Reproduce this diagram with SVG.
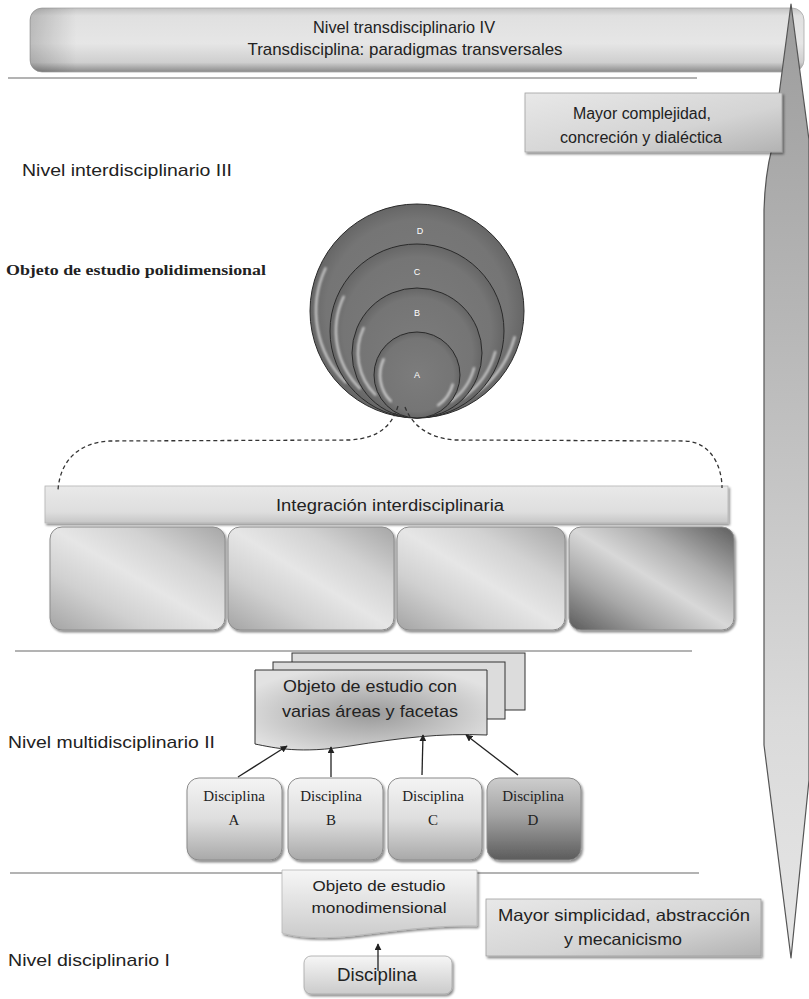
<svg xmlns="http://www.w3.org/2000/svg" width="809" height="999" viewBox="0 0 809 999">
<defs>
  <linearGradient id="gBanner" x1="0" y1="0" x2="0" y2="1">
    <stop offset="0" stop-color="#c4c4c4"/>
    <stop offset="0.12" stop-color="#e0e0e0"/>
    <stop offset="0.55" stop-color="#e6e6e6"/>
    <stop offset="0.85" stop-color="#cfcfcf"/>
    <stop offset="1" stop-color="#8a8a8a"/>
  </linearGradient>
  <linearGradient id="gBannerL" x1="0" y1="0" x2="1" y2="0">
    <stop offset="0" stop-color="#000" stop-opacity="0.18"/>
    <stop offset="0.06" stop-color="#000" stop-opacity="0"/>
  </linearGradient>
  <linearGradient id="gSpear" x1="0" y1="0" x2="0" y2="1">
    <stop offset="0" stop-color="#9c9c9c"/>
    <stop offset="0.35" stop-color="#b8b8b8"/>
    <stop offset="0.75" stop-color="#dadada"/>
    <stop offset="1" stop-color="#e6e6e6"/>
  </linearGradient>
  <linearGradient id="gNote" x1="0" y1="0" x2="1" y2="1">
    <stop offset="0" stop-color="#e8e8e8"/>
    <stop offset="0.6" stop-color="#d4d4d4"/>
    <stop offset="1" stop-color="#b2b2b2"/>
  </linearGradient>
  <linearGradient id="gBar" x1="0" y1="0" x2="0" y2="1">
    <stop offset="0" stop-color="#e9e9e9"/>
    <stop offset="0.7" stop-color="#dedede"/>
    <stop offset="1" stop-color="#c6c6c6"/>
  </linearGradient>
  <linearGradient id="gTile" x1="1" y1="0" x2="0" y2="1">
    <stop offset="0" stop-color="#a6a6a6"/>
    <stop offset="0.28" stop-color="#d2d2d2"/>
    <stop offset="0.5" stop-color="#e6e6e6"/>
    <stop offset="0.72" stop-color="#d0d0d0"/>
    <stop offset="1" stop-color="#a4a4a4"/>
  </linearGradient>
  <linearGradient id="gTileDark" x1="1" y1="0" x2="0" y2="1">
    <stop offset="0" stop-color="#5e5e5e"/>
    <stop offset="0.3" stop-color="#b0b0b0"/>
    <stop offset="0.5" stop-color="#d8d8d8"/>
    <stop offset="0.72" stop-color="#a8a8a8"/>
    <stop offset="1" stop-color="#5a5a5a"/>
  </linearGradient>
  <linearGradient id="gDisc" x1="0" y1="0" x2="0" y2="1">
    <stop offset="0" stop-color="#f4f4f4"/>
    <stop offset="0.5" stop-color="#dedede"/>
    <stop offset="1" stop-color="#a9a9a9"/>
  </linearGradient>
  <linearGradient id="gDiscDark" x1="0" y1="0" x2="0" y2="1">
    <stop offset="0" stop-color="#cdcdcd"/>
    <stop offset="0.45" stop-color="#a4a4a4"/>
    <stop offset="1" stop-color="#5c5c5c"/>
  </linearGradient>
  <radialGradient id="gDoc" cx="0.5" cy="0.55" r="0.6">
    <stop offset="0" stop-color="#9a9a9a"/>
    <stop offset="1" stop-color="#e2e2e2"/>
  </radialGradient>
  <linearGradient id="gMono" x1="0" y1="0" x2="0" y2="1">
    <stop offset="0" stop-color="#f6f6f6"/>
    <stop offset="1" stop-color="#cbcbcb"/>
  </linearGradient>
  <radialGradient id="gCircle" cx="0.5" cy="0.5" r="0.5">
    <stop offset="0" stop-color="#7c7c7c"/>
    <stop offset="0.85" stop-color="#757575"/>
    <stop offset="1" stop-color="#666"/>
  </radialGradient>
  <filter id="shadow" x="-10%" y="-10%" width="125%" height="140%">
    <feDropShadow dx="1.5" dy="2" stdDeviation="1.2" flood-color="#000" flood-opacity="0.45"/>
  </filter>
  <filter id="soft" x="-20%" y="-20%" width="140%" height="140%">
    <feGaussianBlur stdDeviation="1"/>
  </filter>
  <marker id="arr" viewBox="0 0 10 10" refX="9" refY="5" markerWidth="7" markerHeight="7" markerUnits="userSpaceOnUse" orient="auto">
    <path d="M0,0 L10,5 L0,10 Z" fill="#222"/>
  </marker>
  <style>
    .sans { font-family: "Liberation Sans", Arial, sans-serif; fill: #222; }
    .serif { font-family: "Liberation Serif", "Times New Roman", serif; fill: #222; }
    .sep { stroke: #9a9a9a; stroke-width: 1.6; fill: none; }
    .circ { fill: url(#gCircle); stroke: #2a2a2a; stroke-width: 1; }
    .hl { fill: none; stroke: #fff; stroke-width: 2.5; stroke-opacity: 0.6; stroke-linecap: round; filter: url(#soft); }
    .clabel { font-family: "Liberation Sans", Arial, sans-serif; font-size: 9px; fill: #fff; text-anchor: middle; }
    .tile { stroke: #8c8c8c; stroke-width: 1; filter: url(#shadow); }
    .disc { stroke: #8a8a8a; stroke-width: 1; filter: url(#shadow); }
    .conn { stroke: #222; stroke-width: 1.3; fill: none; marker-end: url(#arr); }
    .dash { stroke: #333; stroke-width: 1.3; fill: none; stroke-dasharray: 4 3; }
  </style>
</defs>
<rect width="809" height="999" fill="#fff"/>

<g id="separators">
  <line class="sep" x1="8" y1="78" x2="697" y2="78"/>
  <line class="sep" x1="15" y1="651" x2="692" y2="651"/>
  <line class="sep" x1="10" y1="873" x2="699" y2="873"/>
</g>

<g id="nivel-iv">
  <rect x="30" y="8" width="774" height="64" rx="12" fill="url(#gBanner)" stroke="#a8a8a8" stroke-width="0.8"/>
  <rect x="30" y="8" width="774" height="64" rx="12" fill="url(#gBannerL)"/>
  <text class="sans" x="404" y="33" font-size="17" text-anchor="middle" textLength="182" lengthAdjust="spacingAndGlyphs">Nivel transdisciplinario IV</text>
  <text class="sans" x="405" y="55" font-size="17" text-anchor="middle" textLength="315" lengthAdjust="spacingAndGlyphs">Transdisciplina: paradigmas transversales</text>
</g>

<g id="eje">
  <path d="M791,4 L809,140 L809,780 L791,958 L764,745 L764,210 Q765,175 772,148 Z" fill="url(#gSpear)" stroke="#555" stroke-width="1.2" stroke-linejoin="round"/>
</g>

<g id="mayor-complejidad">
  <rect x="525" y="93" width="257" height="59" fill="url(#gNote)" stroke="#a0a0a0" stroke-width="0.8" filter="url(#shadow)"/>
  <text class="sans" x="642" y="119" font-size="16" text-anchor="middle" textLength="138" lengthAdjust="spacingAndGlyphs">Mayor complejidad,</text>
  <text class="sans" x="641" y="143" font-size="16" text-anchor="middle" textLength="162" lengthAdjust="spacingAndGlyphs">concreción y dialéctica</text>
</g>

<g id="label-iii">
  <text class="sans" x="22" y="176" font-size="17" textLength="210" lengthAdjust="spacingAndGlyphs">Nivel interdisciplinario III</text>
</g>
<g id="label-polidimensional">
  <text class="serif" x="6" y="275" font-size="14.5" font-weight="bold" textLength="260" lengthAdjust="spacingAndGlyphs">Objeto de estudio polidimensional</text>
</g>

<g id="circulos">
  <circle class="circ" cx="417" cy="311" r="107"/>
  <path class="hl" d="M325.5,268.3 A101,101 0 0 0 345.6,382.4"/>
  <path class="hl" d="M514.6,337.2 A101,101 0 0 1 475.0,393.7"/>
  <text class="clabel" x="420" y="234">D</text>
  <circle class="circ" cx="417" cy="331" r="87"/>
  <path class="hl" d="M343.6,296.7 A81,81 0 0 0 359.7,388.3"/>
  <path class="hl" d="M495.2,352.0 A81,81 0 0 1 463.5,397.3"/>
  <text class="clabel" x="417" y="275">C</text>
  <circle class="circ" cx="417" cy="353" r="65"/>
  <path class="hl" d="M363.5,328.0 A59,59 0 0 0 375.3,394.7"/>
  <path class="hl" d="M474.0,368.3 A59,59 0 0 1 450.9,401.3"/>
  <text class="clabel" x="417" y="316">B</text>
  <circle class="circ" cx="417" cy="375" r="43"/>
  <path class="hl" d="M383.5,359.4 A37,37 0 0 0 390.8,401.2"/>
  <path class="hl" d="M452.7,384.6 A37,37 0 0 1 438.2,405.3"/>
  <text class="clabel" x="417" y="378">A</text>
</g>

<g id="integracion">
  <rect x="45" y="486" width="683" height="37" fill="url(#gBar)" stroke="#b4b4b4" stroke-width="0.8" filter="url(#shadow)"/>
  <text class="sans" x="390" y="511" font-size="16" text-anchor="middle" textLength="228" lengthAdjust="spacingAndGlyphs">Integración interdisciplinaria</text>
</g>

<g id="tile-1"><rect class="tile" x="50" y="527" width="175" height="103" rx="12" fill="url(#gTile)"/></g>
<g id="tile-2"><rect class="tile" x="228" y="527" width="166" height="103" rx="12" fill="url(#gTile)"/></g>
<g id="tile-3"><rect class="tile" x="397" y="527" width="168" height="103" rx="12" fill="url(#gTile)"/></g>
<g id="tile-4"><rect class="tile" x="569" y="527" width="165" height="103" rx="12" fill="url(#gTileDark)"/></g>

<g id="label-ii">
  <text class="sans" x="8" y="748" font-size="17" textLength="207" lengthAdjust="spacingAndGlyphs">Nivel multidisciplinario II</text>
</g>

<g id="objeto-multi">
  <rect x="292" y="653" width="233" height="57" fill="#dcdcdc" stroke="#333" stroke-width="1"/>
  <rect x="273" y="662" width="232" height="57" fill="#dcdcdc" stroke="#333" stroke-width="1"/>
  <path d="M255,670 H487 V735 C440,733 400,738 350,746 C300,754 275,748 255,744 Z" fill="url(#gDoc)" stroke="#333" stroke-width="1"/>
  <text class="sans" x="370" y="692" font-size="17" text-anchor="middle" textLength="174" lengthAdjust="spacingAndGlyphs">Objeto de estudio con</text>
  <text class="sans" x="370" y="717" font-size="17" text-anchor="middle" textLength="176" lengthAdjust="spacingAndGlyphs">varias áreas y facetas</text>
</g>

<g id="disciplina-a">
  <rect class="disc" x="187" y="778" width="95" height="82" rx="12" fill="url(#gDisc)"/>
  <text class="serif" x="234" y="801" font-size="15" text-anchor="middle">Disciplina</text>
  <text class="serif" x="234" y="825" font-size="15" text-anchor="middle">A</text>
</g>
<g id="disciplina-b">
  <rect class="disc" x="288" y="778" width="95" height="82" rx="12" fill="url(#gDisc)"/>
  <text class="serif" x="331" y="801" font-size="15" text-anchor="middle">Disciplina</text>
  <text class="serif" x="331" y="825" font-size="15" text-anchor="middle">B</text>
</g>
<g id="disciplina-c">
  <rect class="disc" x="388" y="778" width="94" height="82" rx="12" fill="url(#gDisc)"/>
  <text class="serif" x="433" y="801" font-size="15" text-anchor="middle">Disciplina</text>
  <text class="serif" x="433" y="825" font-size="15" text-anchor="middle">C</text>
</g>
<g id="disciplina-d">
  <rect class="disc" x="487" y="778" width="94" height="82" rx="12" fill="url(#gDiscDark)"/>
  <text class="serif" x="533" y="801" font-size="15" text-anchor="middle">Disciplina</text>
  <text class="serif" x="533" y="825" font-size="15" text-anchor="middle">D</text>
</g>

<g id="objeto-mono">
  <path d="M282,870 H477 V926 C440,925 400,930 360,935 C320,940 295,937 282,933 Z" fill="url(#gMono)" stroke="#b8b8b8" stroke-width="0.8" filter="url(#shadow)"/>
  <text class="sans" x="379" y="891" font-size="14.5" text-anchor="middle" textLength="133" lengthAdjust="spacingAndGlyphs">Objeto de estudio</text>
  <text class="sans" x="379" y="913" font-size="14.5" text-anchor="middle" textLength="135" lengthAdjust="spacingAndGlyphs">monodimensional</text>
</g>

<g id="mayor-simplicidad">
  <rect x="486" y="899" width="275" height="57" fill="url(#gNote)" stroke="#a0a0a0" stroke-width="0.8" filter="url(#shadow)"/>
  <text class="sans" x="624" y="921" font-size="16.5" text-anchor="middle" textLength="252" lengthAdjust="spacingAndGlyphs">Mayor simplicidad, abstracción</text>
  <text class="sans" x="623" y="945" font-size="16.5" text-anchor="middle" textLength="118" lengthAdjust="spacingAndGlyphs">y mecanicismo</text>
</g>

<g id="disciplina-i">
  <rect x="304" y="956" width="148" height="38" rx="7" fill="url(#gMono)" stroke="#a6a6a6" stroke-width="0.8" filter="url(#shadow)"/>
  <text class="sans" x="377" y="981" font-size="18" text-anchor="middle" textLength="80" lengthAdjust="spacingAndGlyphs">Disciplina</text>
</g>

<g id="label-i">
  <text class="sans" x="8" y="966" font-size="17" textLength="162" lengthAdjust="spacingAndGlyphs">Nivel disciplinario I</text>
</g>

<g id="connectors">
  <path class="dash" d="M398,406 C392,425 380,438 350,440 L110,441 C80,442 60,460 58,490"/>
  <path class="dash" d="M405,407 C412,425 428,438 455,440 L685,441 C710,442 722,465 722,488"/>
  <line class="conn" x1="238" y1="777" x2="287" y2="746"/>
  <line class="conn" x1="331" y1="777" x2="331" y2="747"/>
  <line class="conn" x1="422" y1="775" x2="423" y2="735"/>
  <line class="conn" x1="518" y1="775" x2="466" y2="735"/>
  <line class="conn" x1="378" y1="971" x2="378" y2="944"/>
</g>
</svg>
